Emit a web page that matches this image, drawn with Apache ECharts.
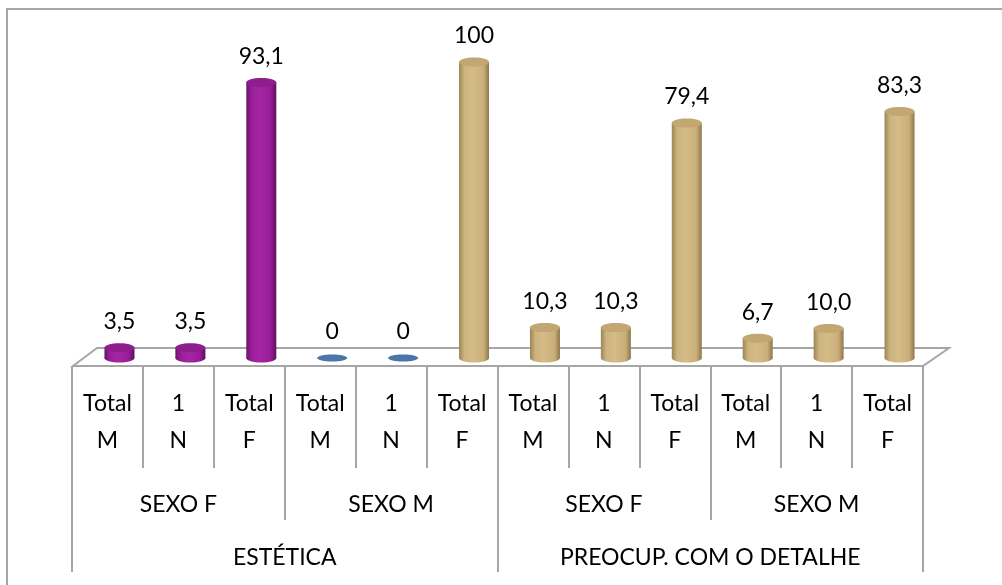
<!DOCTYPE html>
<html lang="pt">
<head>
    <meta charset="UTF-8">
    <title>Estética / Preocup. com o detalhe</title>
    <script src="https://cdn.jsdelivr.net/npm/echarts@6/dist/echarts.min.js"></script>
    <style>
        html, body { margin: 0; padding: 0; background: #fff; }
    </style>
</head>
<body>
<div id="main" style="width: 1002px;height:585px;"></div>
<script>
    // categorias em 3 niveis
    var leafNames = ['Total\nM', '1\nN', 'Total\nF', 'Total\nM', '1\nN', 'Total\nF',
                     'Total\nM', '1\nN', 'Total\nF', 'Total\nM', '1\nN', 'Total\nF'];
    var sexoNames = ['SEXO F', 'SEXO M', 'SEXO F', 'SEXO M'];
    var groupNames = ['ESTÉTICA', 'PREOCUP. COM O DETALHE'];

    // valores (%) e rotulos como aparecem no grafico
    var values = [3.5, 3.5, 93.1, 0, 0, 100, 10.3, 10.3, 79.4, 6.7, 10.0, 83.3];
    var valueLabels = ['3,5', '3,5', '93,1', '0', '0', '100', '10,3', '10,3', '79,4', '6,7', '10,0', '83,3'];

    // cores dos cilindros
    var purple = {stops: ['#6a126a', '#9a1e9a', '#a526a5', '#961c96', '#5c0e5c'], top: '#8e1e8e'};
    var tan = {stops: ['#9c8456', '#cdb37e', '#d5bc87', '#c9ae78', '#8f774c'], top: '#c2a772'};
    var blue = {stops: null, top: '#4a76a8'};
    var barStyles = [purple, purple, purple, blue, blue, tan, tan, tan, tan, tan, tan, tan];

    var gray = '#a6a6a6';
    var font = 'Lato';

    var myChart = echarts.init(document.getElementById('main'));

    function renderCylinder(params, api) {
        var i = params.dataIndex;
        var v = api.value(1);
        var top = api.coord([api.value(0), v]);
        var base = api.coord([api.value(0), 0]);
        var st = barStyles[i];
        var w = 30, ry = 4.5;
        var cx = top[0];
        var els = [];
        if (v > 0) {
            var grad = new echarts.graphic.LinearGradient(0, 0, 1, 0, [
                {offset: 0, color: st.stops[0]},
                {offset: 0.18, color: st.stops[1]},
                {offset: 0.45, color: st.stops[2]},
                {offset: 0.82, color: st.stops[3]},
                {offset: 1, color: st.stops[4]}
            ]);
            els.push({type: 'ellipse', shape: {cx: cx, cy: base[1], rx: w / 2, ry: ry}, style: {fill: grad}});
            els.push({type: 'rect', shape: {x: cx - w / 2, y: top[1], width: w, height: base[1] - top[1]}, style: {fill: grad}});
            els.push({type: 'ellipse', shape: {cx: cx, cy: top[1], rx: w / 2, ry: ry}, style: {fill: st.top}});
        } else {
            els.push({type: 'ellipse', shape: {cx: cx, cy: base[1], rx: w / 2, ry: 3.5}, style: {fill: st.top}});
        }
        els.push({
            type: 'text',
            style: {
                x: cx, y: top[1] - 26, text: valueLabels[i],
                align: 'center', verticalAlign: 'middle',
                fontSize: 23, fontFamily: font, fill: '#000'
            }
        });
        return {type: 'group', children: els};
    }

    // eixo de uma linha da tabela: divisorias = splitLine da grade
    function tableAxis(gridIndex, names, margin, lineHeight) {
        return {
            gridIndex: gridIndex,
            type: 'category',
            position: 'top',
            data: names,
            axisLine: {show: false},
            axisTick: {show: false},
            axisLabel: {
                inside: true, interval: 0, margin: margin,
                verticalAlign: 'top', lineHeight: lineHeight,
                fontSize: 23, fontFamily: font, color: '#000'
            },
            splitLine: {show: true, interval: 0, lineStyle: {color: gray, width: 2}}
        };
    }

    option = {
        backgroundColor: '#fff',
        animation: false,
        graphic: [
            {   // moldura
                type: 'rect', z: -10, silent: true,
                shape: {x: 7, y: 9, width: 1100, height: 700},
                style: {fill: 'none', stroke: gray, lineWidth: 2}
            },
            {   // chao 3D
                type: 'polygon', z: 0, silent: true,
                shape: {points: [[73, 366], [97, 348], [949, 348], [923, 366]]},
                style: {fill: '#fff', stroke: gray, lineWidth: 2}
            }
        ],
        grid: [
            {left: 84, right: 67, top: 62, bottom: 227},
            {left: 72, right: 79, top: 366, height: 102},
            {left: 72, right: 79, top: 366, height: 154},
            {left: 72, right: 79, top: 366, height: 206}
        ],
        xAxis: [
            {gridIndex: 0, type: 'category', data: leafNames, show: false},
            tableAxis(1, leafNames, 19, 37),
            tableAxis(2, sexoNames, 127, 24),
            tableAxis(3, groupNames, 180, 24)
        ],
        yAxis: [
            {gridIndex: 0, type: 'value', min: 0, max: 100, show: false},
            {gridIndex: 1, type: 'value', show: false},
            {gridIndex: 2, type: 'value', show: false},
            {gridIndex: 3, type: 'value', show: false}
        ],
        series: [{
            type: 'custom',
            xAxisIndex: 0,
            yAxisIndex: 0,
            renderItem: renderCylinder,
            encode: {x: 0, y: 1},
            data: values.map(function (v, i) { return [i, v]; }),
            z: 5
        }]
    };

    myChart.setOption(option);
</script>
</body>
</html>
